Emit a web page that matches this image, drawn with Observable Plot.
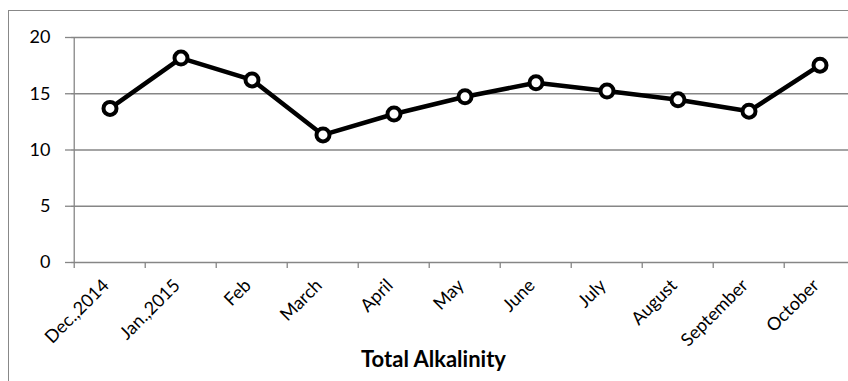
<!DOCTYPE html>
<html>
<head>
<meta charset="utf-8">
<script src="https://cdn.jsdelivr.net/npm/d3@7"></script>
<script src="https://cdn.jsdelivr.net/npm/@observablehq/plot@0.6"></script>
<style>
  html, body { margin: 0; padding: 0; background: #fff; overflow: hidden; }
  #wrap { position: relative; width: 848px; height: 381px; overflow: hidden; }
  #box { position: absolute; left: 8px; top: 10px; width: 900px; height: 420px;
         border: 1px solid #888; box-sizing: border-box; pointer-events: none; }
  #chart { position: absolute; left: 0; top: 0; }
</style>
</head>
<body>
<div id="wrap"><div id="chart"></div><div id="box"></div></div>
<script>
// Monthly total alkalinity readings
const months = ["Dec.,2014", "Jan.,2015", "Feb", "March", "April", "May",
                "June", "July", "August", "September", "October"];
const alkalinity = [13.7, 18.17, 16.23, 11.34, 13.2, 14.73, 15.98, 15.24, 14.46, 13.45, 17.54];
const yTicks = [0, 5, 10, 15, 20];
const chartTitle = "Total Alkalinity";

const rows = months.map((m, i) => ({month: m, value: alkalinity[i]}));

const width = 848, height = 381;
const marginLeft = 71, marginRight = -10, marginTop = 37, marginBottom = 119;
const band = (width - marginLeft - marginRight) / months.length;
const grid = "#868686";
const font = "Lato, 'Open Sans', sans-serif";

const plot = Plot.plot({
  width, height, marginLeft, marginRight, marginTop, marginBottom,
  style: {fontFamily: font, fontSize: "18px", color: "#000", background: "#fff", overflow: "visible"},
  x: {type: "band", domain: months, padding: 0, axis: null},
  y: {domain: [0, 20], axis: null},
  marks: [
    // horizontal gridlines
    Plot.ruleY(yTicks, {stroke: grid, strokeWidth: 1.3}),
    // y axis line and ticks
    Plot.ruleX([months[0]], {dx: -band / 2, stroke: grid, strokeWidth: 1.3}),
    Plot.axisY({ticks: yTicks, tickSize: 6, tickPadding: 15, stroke: grid, strokeWidth: 1.3,
                label: null, fontSize: 18, fill: "#000", textStroke: "none"}),
    // x axis ticks at category boundaries
    Plot.axisX({ticks: months, tickSize: 6, dx: -band / 2, tickFormat: () => "", label: null,
                stroke: grid, strokeWidth: 1.3}),
    // rotated category labels
    Plot.text(rows, {x: "month", y: 0, text: "month", rotate: -45, textAnchor: "end",
                     lineAnchor: "middle", dx: -4, dy: 20, fontSize: 18, fill: "#000"}),
    // series
    Plot.line(rows, {x: "month", y: "value", stroke: "#000", strokeWidth: 4.5,
                     strokeLinejoin: "round"}),
    Plot.dot(rows, {x: "month", y: "value", r: 6.5, fill: "#fff", stroke: "#000", strokeWidth: 4}),
    // chart title below the axis
    Plot.text([chartTitle], {frameAnchor: "bottom", text: d => d, fontWeight: "bold", fontSize: 22,
                             fill: "#000", dx: 433 - (marginLeft + (width - marginLeft - marginRight) / 2),
                             dy: 104, lineAnchor: "bottom"})
  ]
});
document.getElementById("chart").appendChild(plot);
</script>
</body>
</html>
